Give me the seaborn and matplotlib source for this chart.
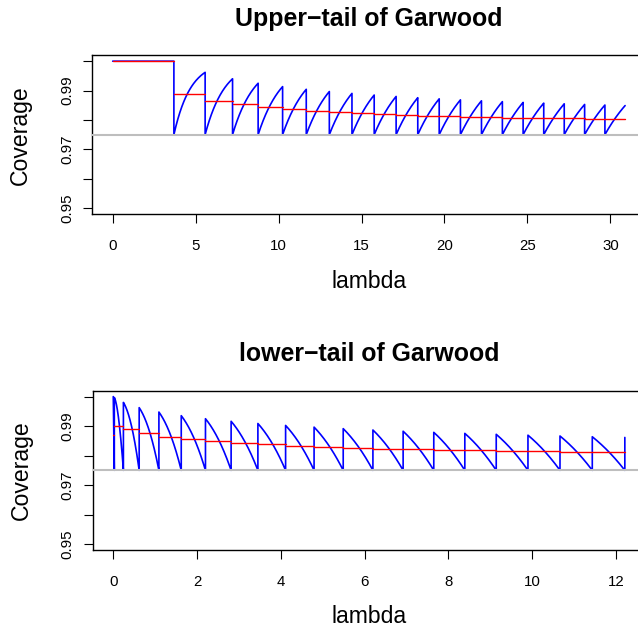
import numpy as np
import pandas as pd
import seaborn as sns
import matplotlib
matplotlib.use("Agg")
import matplotlib.pyplot as plt
from math import lgamma

# ---------------- data ----------------
# lambda values where the upper-tail coverage jumps (Garwood upper limits for x = 0..20)
upper_limits = [3.689, 5.572, 7.225, 8.767, 10.242, 11.668, 13.059, 14.423, 15.763,
                17.085, 18.390, 19.682, 20.962, 22.230, 23.490, 24.740, 25.983,
                27.219, 28.448, 29.671, 30.888]
# mean coverage over each upper-tail segment (red steps)
upper_mean = [1.0, 0.9889, 0.9866, 0.9853, 0.9844, 0.9837, 0.9831, 0.9827, 0.9823,
              0.9820, 0.9817, 0.9815, 0.9813, 0.9811, 0.9809, 0.9808, 0.9807,
              0.9806, 0.9805, 0.9804, 0.9803]
# lambda values where the lower-tail coverage jumps (Garwood lower limits for x = 1..20)
lower_limits = [0.0253, 0.2422, 0.6187, 1.0899, 1.6235, 2.2019, 2.8144, 3.4538,
                4.1154, 4.7954, 5.4912, 6.2006, 6.9220, 7.6539, 8.3954, 9.1454,
                9.9031, 10.6679, 11.4392, 12.2165]
# mean coverage over each lower-tail segment (red steps)
lower_mean = [0.9870, 0.9902, 0.9889, 0.9876, 0.9864, 0.9855, 0.9849, 0.9843,
              0.9838, 0.9834, 0.9830, 0.9827, 0.9824, 0.9822, 0.9820, 0.9818,
              0.9816, 0.9814, 0.9813, 0.9811]
nominal = 0.975
upper_xticks = [0, 5, 10, 15, 20, 25, 30]
lower_xticks = [0, 2, 4, 6, 8, 10, 12]
yticks = [0.95, 0.96, 0.97, 0.98, 0.99, 1.00]
ytick_labels = ["0.95", "", "0.97", "", "0.99", ""]


def pois_cdf(k, lam):
    lam = np.atleast_1d(np.asarray(lam, float))
    if k < 0:
        return np.zeros_like(lam)
    j = np.arange(k + 1)
    lg = np.array([lgamma(v + 1) for v in j])
    logl = np.log(np.maximum(lam, 1e-300))
    terms = np.exp(-lam[:, None] + j[None, :] * logl[:, None] - lg[None, :])
    return terms.sum(axis=1)


# ---- upper-tail path: coverage = P(X >= k) on [b_k, b_{k+1}] ----
ub = [0.0] + upper_limits
ux, uy, rx_u, ry_u, rs_u = [], [], [], [], []
for k in range(len(ub) - 1):
    lam = np.linspace(ub[k], ub[k + 1], 80)
    cov = 1.0 - pois_cdf(k - 1, lam)
    ux.extend(lam); uy.extend(cov)
    rx_u += [ub[k], ub[k + 1]]; ry_u += [upper_mean[k]] * 2; rs_u += [k, k]
up_df = pd.DataFrame({"lambda": ux, "coverage": uy})
up_red = pd.DataFrame({"lambda": rx_u, "coverage": ry_u, "seg": rs_u})

# ---- lower-tail path: coverage = P(X <= k) on [b_k, b_{k+1}] ----
lb = [0.0] + lower_limits
lx, ly, rx_l, ry_l, rs_l = [], [], [], [], []
for k in range(len(lb) - 1):
    lam = np.linspace(lb[k], lb[k + 1], 80)
    cov = pois_cdf(k, lam)
    lx.extend(lam); ly.extend(cov)
    rx_l += [lb[k], lb[k + 1]]; ry_l += [lower_mean[k]] * 2; rs_l += [k, k]
lx.append(lb[-1]); ly.append(float(pois_cdf(len(lb) - 1, [lb[-1]])[0]))
lo_df = pd.DataFrame({"lambda": lx, "coverage": ly})
lo_red = pd.DataFrame({"lambda": rx_l, "coverage": ry_l, "seg": rs_l})

# ---------------- drawing ----------------
sns.set_style("ticks")
plt.rcParams["font.family"] = ["Liberation Sans", "DejaVu Sans"]
plt.rcParams.update({"text.color": "black", "axes.labelcolor": "black",
                     "xtick.color": "black", "ytick.color": "black",
                     "axes.edgecolor": "black"})

W, H = 638, 630
fig = plt.figure(figsize=(W / 100, H / 100), dpi=100)
ax1 = fig.add_axes([92.2 / W, (H - 214) / H, 553.4 / W, 158.7 / H])
ax2 = fig.add_axes([92.8 / W, (H - 550) / H, 552.5 / W, 159.3 / H])

panels = [
    (ax1, up_df, up_red, "Upper\u2212tail of Garwood", upper_xticks,
     (-1.2355, 32.1235), -0.468, 1.187),
    (ax2, lo_df, lo_red, "lower\u2212tail of Garwood", lower_xticks,
     (-0.4887, 12.7052), -0.460, 1.186),
]

for ax, df, red, title, xt, xl, xlab_y, title_y in panels:
    sns.lineplot(data=df, x="lambda", y="coverage", ax=ax, color="#0000FF",
                 lw=1.2, sort=False, estimator=None)
    sns.lineplot(data=red, x="lambda", y="coverage", units="seg", ax=ax,
                 color="#FF0000", lw=1.0, estimator=None)
    ax.axhline(nominal, color="#BEBEBE", lw=1.5, zorder=3)
    ax.set_xlim(*xl)
    ax.set_ylim(0.948, 1.002)
    ax.set_xticks(xt)
    ax.set_xticklabels([str(v) for v in xt], fontsize=10.8)
    ax.set_yticks(yticks)
    ax.set_yticklabels(ytick_labels, fontsize=10.8, rotation=90, va="center")
    ax.tick_params(axis="x", length=6.7, width=0.8, pad=11, colors="black")
    ax.tick_params(axis="y", length=6.7, width=0.8, pad=6.3, colors="black")
    for s in ax.spines.values():
        s.set_visible(True)
        s.set_linewidth(1.0)
        s.set_color("black")
    ax.set_xlabel("lambda", fontsize=16.6, color="black")
    ax.xaxis.set_label_coords(0.5, xlab_y)
    ax.xaxis.label.set_va("baseline")
    ax.set_ylabel("Coverage", fontsize=16.6, color="black")
    ax.yaxis.set_label_coords(-0.1296, 0.5)
    ax.yaxis.label.set_va("center")
    ax.set_title(title, fontsize=17.9, fontweight="bold", y=title_y, pad=0,
                 va="baseline", color="black")
    ax.grid(False)

fig.savefig("out.png", dpi=100)
